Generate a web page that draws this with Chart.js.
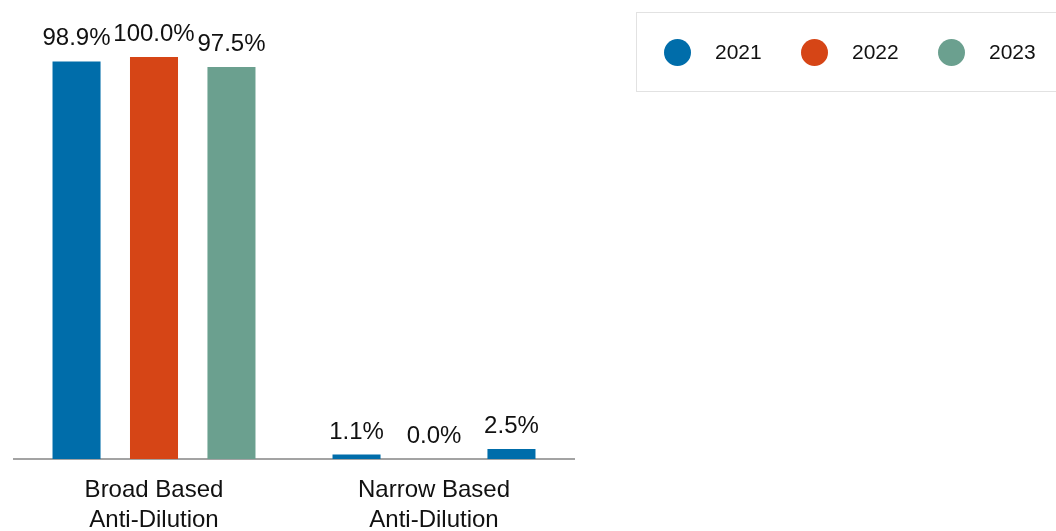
<!DOCTYPE html>
<html>
<head>
<meta charset="utf-8">
<title>Anti-Dilution Provisions</title>
<script src="https://cdn.jsdelivr.net/npm/chart.js@4/dist/chart.umd.min.js"></script>
<style>
  body { margin: 0; background: #fff; font-family: "Liberation Sans", Arial, sans-serif; }
  #wrap { position: relative; width: 1056px; height: 531px; overflow: hidden; }
  #legend {
    position: absolute; left: 636px; top: 12px; width: 440px; height: 80px;
    border: 1px solid #e2e2e2; box-sizing: border-box;
    display: flex; align-items: center; padding-left: 27px;
  }
  .item { display: flex; align-items: center; width: 137px; font-size: 21px; color: #111; }
  .dot { width: 27px; height: 27px; border-radius: 50%; margin-right: 24px; }
</style>
</head>
<body>
<div id="wrap">
  <canvas id="chart" width="1056" height="531"></canvas>
  <div id="legend"></div>
</div>
<script>
// provision type categories and share of deals per year (%)
const categories = [['Broad Based', 'Anti-Dilution'], ['Narrow Based', 'Anti-Dilution']];
const years = ['2021', '2022', '2023'];
const values2021 = [98.9, 1.1];
const values2022 = [100.0, 0.0];
const values2023 = [97.5, 2.5];

const blue = '#006DAA';
const orange = '#D64516';
const green = '#6BA08F';
// the narrow based column is shaded in the first colour for every year
const colors2021 = [blue, blue];
const colors2022 = [orange, blue];
const colors2023 = [green, blue];

// value labels above each bar
const barLabels = {
  id: 'barLabels',
  afterDatasetsDraw(chart) {
    const ctx = chart.ctx;
    ctx.save();
    ctx.font = '24px "Liberation Sans", Arial, sans-serif';
    ctx.fillStyle = '#111';
    ctx.textAlign = 'center';
    ctx.textBaseline = 'alphabetic';
    chart.data.datasets.forEach((ds, i) => {
      chart.getDatasetMeta(i).data.forEach((bar, j) => {
        ctx.fillText(ds.data[j].toFixed(1) + '%', bar.x, bar.y - 16);
      });
    });
    ctx.restore();
  }
};

const chart = new Chart(document.getElementById('chart'), {
  type: 'bar',
  data: {
    labels: categories,
    datasets: [
      { label: years[0], data: values2021, backgroundColor: colors2021 },
      { label: years[1], data: values2022, backgroundColor: colors2022 },
      { label: years[2], data: values2023, backgroundColor: colors2023 }
    ]
  },
  options: {
    responsive: false,
    animation: false,
    layout: { padding: { left: 14, right: 482, top: 57, bottom: -12 } },
    datasets: { bar: { categoryPercentage: 0.83, barPercentage: 0.62 } },
    plugins: { legend: { display: false }, tooltip: { enabled: false } },
    scales: {
      x: {
        grid: { display: false },
        border: { color: '#a3a3a3', width: 2 },
        ticks: {
          color: '#111',
          padding: 8,
          font: { family: '"Liberation Sans", Arial, sans-serif', size: 24, lineHeight: 1.25 }
        }
      },
      y: { display: false, min: 0, max: 100 }
    }
  },
  plugins: [barLabels]
});

// legend built from the chart's datasets
const legend = document.getElementById('legend');
chart.data.datasets.forEach(ds => {
  const item = document.createElement('div');
  item.className = 'item';
  const dot = document.createElement('span');
  dot.className = 'dot';
  dot.style.background = ds.backgroundColor[0];
  item.appendChild(dot);
  item.appendChild(document.createTextNode(ds.label));
  legend.appendChild(item);
});
</script>
</body>
</html>
